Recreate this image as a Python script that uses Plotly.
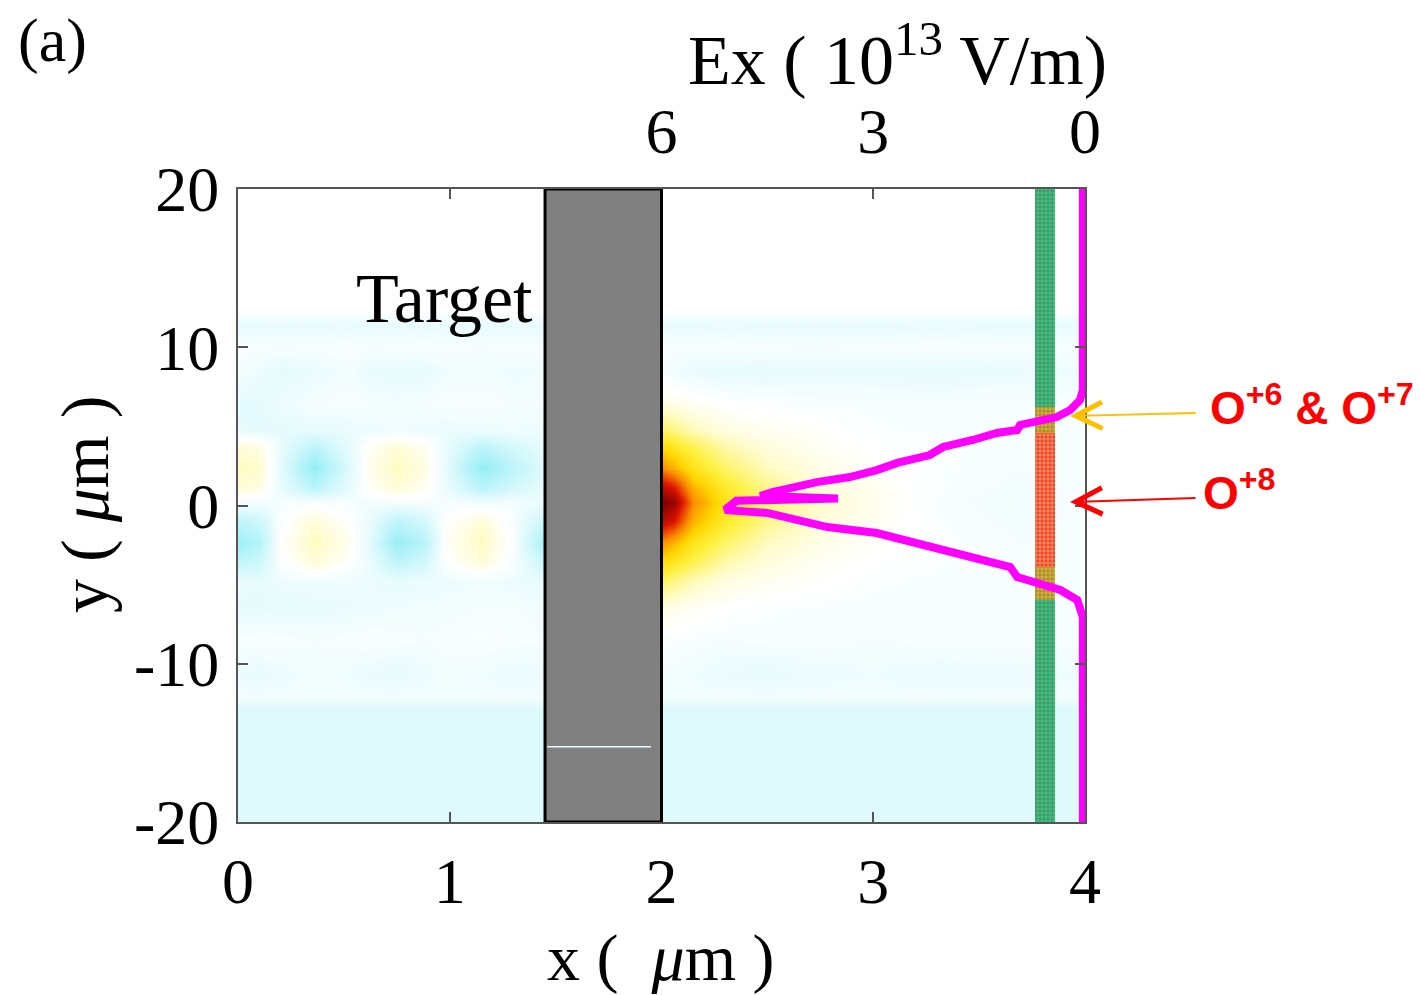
import plotly.graph_objects as go

# ---------------- data ----------------
# Ex field map (normalised units), coarse grid
field_x = [0, 0.1, 0.2, 0.36, 0.52, 0.62, 0.75, 0.88, 0.98, 1.15, 1.3, 1.45,
           2.0, 2.06, 2.15, 2.3, 2.5, 2.75, 3.0, 3.3, 3.7, 4.0]
field_y = [-20, -12.8, -12.2, -10.5, -8.5, -6.5, -4.8, -3.6, -2.3, -1.0, 0.2,
           1.1, 2.4, 3.7, 4.8, 6.5, 8.5, 10, 11.5, 12.3, 20]

# left part (laser side, x <= 1.45) of each row
field_left = [
    [-0.13] * 12,
    [-0.13] * 12,
    [-0.05] * 12,
    [-0.08, -0.09, -0.07, -0.05, -0.06, -0.08, -0.09, -0.07, -0.05, -0.06, -0.08, -0.07],
    [-0.03, -0.02, -0.03, -0.04, -0.03, -0.02, -0.03, -0.04, -0.03, -0.02, -0.03, -0.04],
    [-0.10, -0.10, -0.09, -0.09, -0.08, -0.07, -0.06, -0.05, -0.05, -0.04, -0.04, -0.05],
    [-0.08, -0.09, -0.07, -0.06, -0.06, -0.07, -0.09, -0.08, -0.07, -0.06, -0.07, -0.10],
    [-0.25, -0.20, -0.02, 0.08, 0.00, -0.08, -0.26, -0.18, 0.00, 0.08, -0.03, -0.22],
    [-0.38, -0.30, 0.00, 0.12, 0.04, -0.10, -0.40, -0.28, 0.02, 0.12, -0.02, -0.35],
    [-0.25, -0.20, -0.02, 0.08, 0.00, -0.08, -0.26, -0.18, 0.00, 0.08, -0.03, -0.22],
    [-0.04, -0.05, -0.04, -0.03, -0.04, -0.05, -0.04, -0.03, -0.04, -0.05, -0.05, -0.08],
    [0.08, 0.06, -0.08, -0.27, -0.10, 0.02, 0.08, 0.03, -0.08, -0.27, -0.17, -0.09],
    [0.12, 0.10, -0.10, -0.42, -0.14, 0.04, 0.12, 0.06, -0.10, -0.42, -0.26, -0.12],
    [0.08, 0.06, -0.08, -0.27, -0.10, 0.02, 0.08, 0.03, -0.08, -0.27, -0.17, -0.09],
    [-0.09, -0.10, -0.10, -0.09, -0.08, -0.07, -0.06, -0.07, -0.08, -0.07, -0.06, -0.07],
    [-0.10, -0.10, -0.07, -0.04, -0.03, -0.04, -0.05, -0.04, -0.03, -0.03, -0.04, -0.04],
    [-0.04, -0.07, -0.10, -0.08, -0.05, -0.08, -0.10, -0.09, -0.06, -0.05, -0.07, -0.06],
    [-0.03, -0.03, -0.04, -0.03, -0.02, -0.04, -0.03, -0.02, -0.03, -0.04, -0.03, -0.03],
    [-0.09] * 12,
    [0.0] * 12,
    [0.0] * 12,
]
# right part (rear side, x >= 2.0) of each row
field_right = [
    [-0.13] * 10,
    [-0.13] * 10,
    [-0.05] * 10,
    [-0.05, -0.05, -0.06, -0.08, -0.09, -0.07, -0.06, -0.08, -0.07, -0.06],
    [-0.02, -0.02, -0.03, -0.04, -0.03, -0.03, -0.04, -0.03, -0.03, -0.03],
    [0.06, 0.04, 0.02, 0.00, -0.02, -0.03, -0.03, -0.03, -0.03, -0.03],
    [0.24, 0.20, 0.13, 0.06, 0.03, 0.01, -0.02, -0.03, -0.04, -0.03],
    [0.42, 0.36, 0.27, 0.15, 0.07, 0.02, 0.00, -0.02, -0.04, -0.03],
    [0.60, 0.52, 0.38, 0.24, 0.12, 0.05, 0.01, -0.02, -0.04, -0.03],
    [0.88, 0.80, 0.52, 0.34, 0.19, 0.08, 0.03, -0.02, -0.05, -0.03],
    [1.00, 0.95, 0.60, 0.38, 0.22, 0.10, 0.04, -0.03, -0.06, -0.03],
    [0.88, 0.80, 0.52, 0.34, 0.19, 0.08, 0.03, -0.02, -0.05, -0.03],
    [0.60, 0.52, 0.38, 0.24, 0.12, 0.05, 0.01, -0.02, -0.04, -0.03],
    [0.42, 0.36, 0.27, 0.15, 0.07, 0.02, 0.00, -0.02, -0.04, -0.03],
    [0.24, 0.20, 0.13, 0.06, 0.03, 0.01, -0.02, -0.03, -0.04, -0.03],
    [0.06, 0.04, 0.02, 0.00, -0.02, -0.03, -0.03, -0.03, -0.03, -0.03],
    [-0.04, -0.06, -0.08, -0.10, -0.10, -0.08, -0.09, -0.10, -0.08, -0.06],
    [-0.02, -0.03, -0.03, -0.02, -0.03, -0.04, -0.03, -0.02, -0.03, -0.03],
    [-0.09] * 10,
    [0.0] * 10,
    [0.0] * 10,
]
field_z = [l + r for l, r in zip(field_left, field_right)]

# Ex line-out at the rear (10^13 V/m) vs y (um)
profile_y = [20, 8.1, 7.3, 6.67, 6.03, 5.59, 5.28, 5.09, 4.77, 4.58, 4.14,
             3.70, 3.19, 2.69, 2.24, 1.80, 1.48, 1.17, 0.85, 0.6, 0.45, 0.3,
             -0.28, -0.47, -0.92, -1.36, -1.74, -2.18, -2.62, -3.00, -3.44,
             -3.89, -4.52, -4.90, -5.34, -5.97, -7.05, -20]
profile_ex = [0.03, 0.03, 0.03, 0.07, 0.21, 0.40, 0.74, 0.92, 0.96, 1.25, 1.59,
              2.01, 2.20, 2.66, 2.95, 3.33, 3.80, 4.14, 4.43, 4.6, 3.5, 4.94,
              5.10, 4.50, 4.04, 3.65, 2.95, 2.58, 2.15, 1.81, 1.49,
              1.06, 0.96, 0.64, 0.35, 0.11, 0.03, 0.03]

# ion-species strip at x ~ 3.81 um
strip_x = 3.811
strip_width = 0.094
strip_bottom = [-20, -5.95, -3.9, 4.6, 6.2]
strip_top = [-5.95, -3.9, 4.6, 6.2, 20]
strip_colors = ['rgb(64,194,126)', 'rgb(214,178,48)', 'rgb(240,72,30)',
                'rgb(214,178,48)', 'rgb(64,194,126)']

# target slab
target_x = [1.45, 2.0]
target_y = [-20, 20]
target_line_y = -15.25

x_ticks = [0, 1, 2, 3, 4]
x_ticktext = ['0', '1', '2', '3', '4']
y_ticks = [-20, -10, 0, 10, 20]
y_ticktext = ['-20', '-10', '0', '10', '20']
ex_ticks = [6, 3, 0]
ex_ticktext = ['6', '3', '0']

# ---------------- figure ----------------
SERIF = 'Liberation Serif'
AX = '#555555'

colorscale = [
    [0.0, 'rgb(0,215,235)'],
    [0.5, 'rgb(255,255,255)'],
    [0.55, 'rgb(255,252,205)'],
    [0.65, 'rgb(255,240,60)'],
    [0.72, 'rgb(255,215,0)'],
    [0.8, 'rgb(250,140,0)'],
    [0.9, 'rgb(220,20,0)'],
    [1.0, 'rgb(125,0,0)'],
]

fig = go.Figure()
fig.add_trace(go.Heatmap(x=field_x, y=field_y, z=field_z, zmin=-1, zmax=1,
                         colorscale=colorscale, zsmooth='best', showscale=False,
                         hoverinfo='skip'))

fig.add_trace(go.Bar(
    x=[strip_x] * len(strip_bottom),
    base=strip_bottom,
    y=[t - b for t, b in zip(strip_top, strip_bottom)],
    width=strip_width,
    marker=dict(color=strip_colors, line=dict(width=0),
                pattern=dict(shape='+', size=4, solidity=0.35,
                             fgcolor='rgba(255,255,255,0.35)')),
    showlegend=False, hoverinfo='skip'))

fig.add_trace(go.Scatter(x=profile_ex, y=profile_y, xaxis='x2', yaxis='y',
                         mode='lines', line=dict(color='#ff00ff', width=8),
                         showlegend=False, hoverinfo='skip'))

fig.add_shape(type='rect', xref='x', yref='y', x0=target_x[0], x1=target_x[1],
              y0=target_y[0], y1=target_y[1], fillcolor='#808080',
              line=dict(color='black', width=3), layer='above')
fig.add_shape(type='line', xref='x', yref='y', x0=target_x[0] + 0.01,
              x1=target_x[1] - 0.05, y0=target_line_y, y1=target_line_y,
              line=dict(color='#e0fcff', width=1.5), layer='above')

axis_common = dict(showgrid=False, zeroline=False, ticks='inside', ticklen=10,
                   tickwidth=1.5, tickcolor=AX, showline=True, linecolor=AX,
                   linewidth=2, mirror='ticks',
                   tickfont=dict(family=SERIF, size=64, color='black'))

fig.update_layout(
    width=1420, height=995,
    margin=dict(l=238, r=335, t=189, b=173),
    paper_bgcolor='white', plot_bgcolor='white',
    barmode='overlay', bargap=0,
    xaxis=dict(range=[0, 4], tickvals=x_ticks, ticktext=x_ticktext,
               ticklabelstandoff=2, **axis_common),
    yaxis=dict(range=[-20, 20], tickvals=y_ticks, ticktext=y_ticktext,
               ticklabelstandoff=4, **axis_common),
    xaxis2=dict(range=[12, 0], overlaying='x', side='top', tickvals=ex_ticks,
                ticktext=ex_ticktext, ticks='', showline=False, showgrid=False,
                zeroline=False, ticklabelstandoff=22,
                tickfont=dict(family=SERIF, size=64, color='black')),
    showlegend=False,
)


def px_x(p):
    return (p - 238) / 847.0


def px_y(p):
    return (822 - p) / 633.0


annos = [
    dict(text='(a)', x=px_x(52), y=px_y(40), size=62),
    dict(text='Ex ( 10<sup>13</sup> V/m)', x=px_x(897), y=px_y(55), size=70),
    dict(text='x (  <i>μ</i>m )', x=px_x(660), y=px_y(958), size=66),
]
for a in annos:
    fig.add_annotation(text=a['text'], x=a['x'], y=a['y'], xref='paper',
                       yref='paper', showarrow=False, xanchor='center',
                       yanchor='middle',
                       font=dict(family=SERIF, size=a['size'], color='black'))

fig.add_annotation(text='y ( <i>μ</i>m )', x=px_x(85), y=px_y(505),
                   xref='paper', yref='paper', showarrow=False, textangle=-90,
                   xanchor='center', yanchor='middle',
                   font=dict(family=SERIF, size=68, color='black'))

fig.add_annotation(text='Target', x=1.403, y=13.1, xref='x', yref='y',
                   showarrow=False, xanchor='right', yanchor='middle',
                   font=dict(family=SERIF, size=70, color='black'))

fig.add_annotation(text='<b>O<sup>+6</sup> &amp; O<sup>+7</sup></b>',
                   x=px_x(1208), y=px_y(405), xref='paper', yref='paper',
                   showarrow=False, xanchor='left', yanchor='middle',
                   font=dict(family='Liberation Sans', size=46, color='#ff0000'))
fig.add_annotation(text='<b>O<sup>+8</sup></b>',
                   x=px_x(1201), y=px_y(490), xref='paper', yref='paper',
                   showarrow=False, xanchor='left', yanchor='middle',
                   font=dict(family='Liberation Sans', size=46, color='#ff0000'))

fig.add_annotation(text='', x=px_x(1070), y=px_y(416), xref='paper', yref='paper',
                   showarrow=True, ax=127, ay=-3, arrowhead=5, arrowsize=2.6,
                   arrowwidth=2, arrowcolor='#ffc000')
fig.add_annotation(text='', x=px_x(1070), y=px_y(502), xref='paper', yref='paper',
                   showarrow=True, ax=127, ay=-4, arrowhead=5, arrowsize=2.6,
                   arrowwidth=2, arrowcolor='#ff0000')

fig.write_html('out.html')
